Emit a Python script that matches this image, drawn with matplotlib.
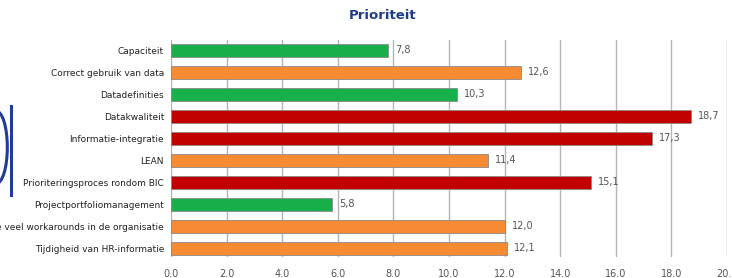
import numpy as np
import matplotlib.pyplot as plt
from matplotlib.patches import Arc
from matplotlib.lines import Line2D

# data
labels = ['Capaciteit', 'Correct gebruik van data', 'Datadefinities', 'Datakwaliteit',
          'Informatie-integratie', 'LEAN', 'Prioriteringsproces rondom BIC',
          'Projectportfoliomanagement', 'Te veel workarounds in de organisatie',
          'Tijdigheid van HR-informatie']
values = [7.8, 12.6, 10.3, 18.7, 17.3, 11.4, 15.1, 5.8, 12.0, 12.1]
levels = ['green', 'orange', 'green', 'red', 'red', 'orange', 'red', 'green', 'orange', 'orange']
xticks = [0, 2, 4, 6, 8, 10, 12, 14, 16, 18, 20]

palette = {'green': '#17B04B', 'orange': '#F68B33', 'red': '#C10000'}
colors = [palette[l] for l in levels]

fig = plt.figure(figsize=(7.32, 2.78), dpi=100)
ax = fig.add_axes([0.2336, 0.076, 0.7596, 0.78])

y = np.arange(len(labels))
ax.barh(y, values, height=0.6, color=colors, edgecolor='#8a8a8a', linewidth=0.6, zorder=3)
for yi, v in zip(y, values):
    ax.annotate(f'{v:.1f}'.replace('.', ','), (v, yi), xytext=(5, 0), textcoords='offset points',
                va='center', ha='left', fontsize=7, color='#555555')

ax.set_xlim(0, 20)
ax.set_ylim(9.38, -0.46)
ax.set_yticks(y)
ax.set_yticklabels(labels, fontsize=6.5, color='#222222')
ax.set_xticks(xticks)
ax.set_xticklabels([f'{t:.1f}' for t in xticks], fontsize=7, color='#555555')
ax.tick_params(length=0, pad=5)
ax.tick_params(axis='x', pad=9)
ax.grid(axis='x', color='#b5b5b5', linewidth=1, zorder=0)
for s in ax.spines.values():
    s.set_visible(False)

fig.text(0.523, 0.945, 'Prioriteit', ha='center', va='center', fontsize=9.5,
         fontweight='bold', color='#1F3C88')

# blue bracket decoration from the slide on the left
fig.add_artist(Line2D([0.0145, 0.0145], [0.30, 0.62], color='#1F3C9A', lw=2.2,
                      transform=fig.transFigure))
fig.add_artist(Arc((-0.005, 0.47), 0.03, 0.26, theta1=-90, theta2=90, color='#1F3C9A',
                   lw=2.2, transform=fig.transFigure))

fig.savefig('out.png', dpi=100)
